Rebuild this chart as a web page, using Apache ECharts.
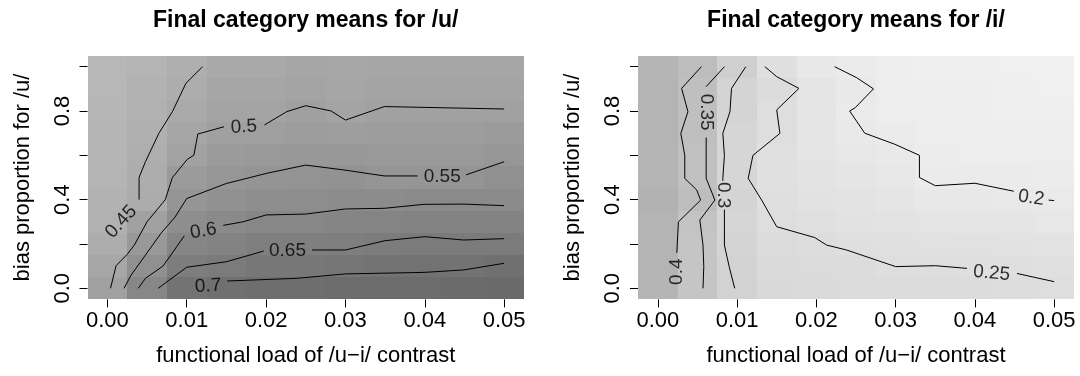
<!DOCTYPE html>
<html>
<head>
<meta charset="utf-8">
<script src="https://cdn.jsdelivr.net/npm/echarts@6.0.0/dist/echarts.min.js"></script>
<style>
  html, body { margin: 0; padding: 0; background: #fff; }
  #chart { width: 1080px; height: 376px; }
</style>
</head>
<body>
<div id="chart"></div>
<script>
// cell centres of the simulation grid
const loadValues = [0, 0.005, 0.01, 0.015, 0.02, 0.025, 0.03, 0.035, 0.04, 0.045, 0.05];
const biasValues = [0, 0.1, 0.2, 0.3, 0.4, 0.5, 0.6, 0.7, 0.8, 0.9, 1.0];
const xTicks = [0, 0.01, 0.02, 0.03, 0.04, 0.05];
const yTicks = [0, 0.2, 0.4, 0.6, 0.8, 1.0];
const yTickLabels = [0, 0.4, 0.8];

// final /u/ means, one row per bias value (bias 0 first)
const uMeans = [
  [0.500, 0.610, 0.690, 0.705, 0.710, 0.710, 0.720, 0.720, 0.720, 0.725, 0.730],
  [0.475, 0.570, 0.648, 0.660, 0.675, 0.675, 0.685, 0.690, 0.695, 0.690, 0.705],
  [0.452, 0.535, 0.612, 0.625, 0.640, 0.640, 0.645, 0.655, 0.660, 0.657, 0.660],
  [0.435, 0.500, 0.580, 0.597, 0.610, 0.610, 0.617, 0.620, 0.625, 0.625, 0.625],
  [0.430, 0.457, 0.550, 0.567, 0.580, 0.585, 0.590, 0.590, 0.595, 0.595, 0.593],
  [0.425, 0.453, 0.525, 0.545, 0.555, 0.560, 0.565, 0.552, 0.552, 0.555, 0.570],
  [0.420, 0.447, 0.497, 0.525, 0.535, 0.540, 0.540, 0.535, 0.535, 0.535, 0.545],
  [0.418, 0.440, 0.480, 0.505, 0.510, 0.520, 0.515, 0.520, 0.520, 0.520, 0.525],
  [0.415, 0.435, 0.465, 0.490, 0.490, 0.505, 0.490, 0.503, 0.503, 0.502, 0.502],
  [0.413, 0.430, 0.453, 0.480, 0.480, 0.490, 0.480, 0.490, 0.490, 0.490, 0.490],
  [0.410, 0.425, 0.445, 0.470, 0.470, 0.480, 0.475, 0.480, 0.480, 0.480, 0.480]
];

// final /i/ means
const iMeans = [
  [0.420, 0.355, 0.298, 0.272, 0.265, 0.262, 0.260, 0.258, 0.258, 0.256, 0.252],
  [0.425, 0.355, 0.297, 0.268, 0.262, 0.258, 0.250, 0.250, 0.248, 0.245, 0.242],
  [0.425, 0.355, 0.290, 0.262, 0.255, 0.245, 0.240, 0.238, 0.236, 0.232, 0.228],
  [0.425, 0.360, 0.285, 0.252, 0.240, 0.235, 0.228, 0.225, 0.222, 0.220, 0.215],
  [0.430, 0.385, 0.290, 0.245, 0.235, 0.228, 0.222, 0.210, 0.208, 0.205, 0.200],
  [0.425, 0.375, 0.285, 0.240, 0.230, 0.220, 0.215, 0.198, 0.198, 0.195, 0.193],
  [0.425, 0.375, 0.285, 0.242, 0.225, 0.215, 0.205, 0.192, 0.190, 0.190, 0.188],
  [0.425, 0.378, 0.285, 0.250, 0.222, 0.205, 0.195, 0.188, 0.187, 0.185, 0.184],
  [0.425, 0.380, 0.290, 0.250, 0.220, 0.200, 0.190, 0.185, 0.184, 0.182, 0.180],
  [0.425, 0.380, 0.292, 0.258, 0.220, 0.205, 0.190, 0.185, 0.183, 0.180, 0.178],
  [0.420, 0.385, 0.310, 0.245, 0.210, 0.195, 0.185, 0.180, 0.180, 0.178, 0.176]
];

// contour lines (pieces are split where the level label sits)
const uContour045 = [
  [[0.004, 0.4], [0.004, 0.5], [0.0048, 0.571], [0.0065, 0.70], [0.0082, 0.797], [0.0099, 0.925], [0.012, 1.0]]
];
const uContour050 = [
  [[0.0004, 0], [0.0011, 0.102], [0.0025, 0.153], [0.0034, 0.195], [0.005, 0.30], [0.0073, 0.40], [0.0082, 0.50],
   [0.0101, 0.583], [0.0109, 0.60], [0.0114, 0.696], [0.0147, 0.729]],
  [[0.0198, 0.737], [0.0226, 0.797], [0.025, 0.824], [0.0282, 0.80], [0.030, 0.759], [0.0349, 0.82], [0.05, 0.809]]
];
const uContour055 = [
  [[0.0021, 0], [0.003, 0.06], [0.005, 0.16], [0.0068, 0.25], [0.0085, 0.32], [0.010, 0.405], [0.015, 0.473],
   [0.0201, 0.519], [0.025, 0.556], [0.0298, 0.534], [0.0349, 0.507], [0.0391, 0.507]],
  [[0.0452, 0.512], [0.05, 0.571]]
];
const uContour060 = [
  [[0.0039, 0], [0.0048, 0.045], [0.007, 0.10], [0.008, 0.15], [0.0097, 0.237]],
  [[0.0146, 0.284], [0.0171, 0.30], [0.020, 0.331], [0.025, 0.335], [0.030, 0.358], [0.0349, 0.361],
   [0.0399, 0.379], [0.0449, 0.38], [0.05, 0.373]]
];
const uContour065 = [
  [[0.0064, 0], [0.010, 0.095], [0.015, 0.12], [0.0197, 0.168]],
  [[0.0258, 0.173], [0.030, 0.173], [0.035, 0.215], [0.040, 0.233], [0.0449, 0.218], [0.05, 0.224]]
];
const uContour070 = [
  [[0.0151, 0.033], [0.0238, 0.045], [0.030, 0.065], [0.040, 0.072], [0.0449, 0.083], [0.05, 0.113]]
];
const uLevelLabels = [['0.45', 0.00175, 0.30], ['0.5', 0.0172, 0.728], ['0.55', 0.0422, 0.503],
  ['0.6', 0.0121, 0.258], ['0.65', 0.0227, 0.168], ['0.7', 0.0127, 0.010]];

const iContour040 = [
  [[0.0055, 1.0], [0.003, 0.902], [0.0038, 0.797], [0.0029, 0.699], [0.0034, 0.60], [0.0034, 0.496],
   [0.0049, 0.444], [0.0054, 0.398], [0.0026, 0.30], [0.0024, 0.16]]
];
const iContour035 = [
  [[0.0084, 1.0], [0.0061, 0.91]],
  [[0.0061, 0.68], [0.0061, 0.496], [0.0072, 0.398], [0.0053, 0.308], [0.0057, 0.195], [0.0058, 0.098], [0.0057, 0]]
];
const iContour030 = [
  [[0.0111, 1.0], [0.0093, 0.902], [0.0091, 0.797], [0.0082, 0.699], [0.0084, 0.60], [0.0082, 0.496], [0.0082, 0.485]],
  [[0.0084, 0.355], [0.0084, 0.195], [0.009, 0.098], [0.0097, 0]]
];
const iContour025 = [
  [[0.0135, 1.0], [0.015, 0.955], [0.0178, 0.902], [0.015, 0.805], [0.0154, 0.699], [0.012, 0.60], [0.0114, 0.496],
   [0.0131, 0.398], [0.015, 0.278], [0.0198, 0.229], [0.0213, 0.195], [0.0238, 0.173], [0.030, 0.098],
   [0.035, 0.102], [0.039, 0.09]],
  [[0.0453, 0.067], [0.05, 0.03]]
];
const iContour020 = [
  [[0.0223, 1.0], [0.0251, 0.95], [0.0272, 0.90], [0.0249, 0.815], [0.0242, 0.80], [0.0261, 0.70], [0.0299, 0.65],
   [0.033, 0.60], [0.033, 0.50], [0.035, 0.463], [0.040, 0.474], [0.0449, 0.438]],
  [[0.0493, 0.398], [0.05, 0.396]]
];
const iLevelLabels = [['0.4', 0.0024, 0.075], ['0.35', 0.0061, 0.795], ['0.3', 0.0082, 0.42],
  ['0.25', 0.0421, 0.068], ['0.2', 0.0471, 0.408]];

// text angles of the level labels (follow the line direction)
const labelAngle = { '0.45': 48, '0.5': 3, '0.55': 0, '0.6': 10, '0.65': 0, '0.7': 4,
  '0.4': 90, '0.35': -90, '0.3': -90, '0.25': -5, '0.2': -8 };

const FONT = '"Liberation Sans", Arial, Helvetica, sans-serif';
const gridBoxes = [
  { left: 87.5, top: 55.6, width: 436.5, height: 243.8 },
  { left: 638, top: 55.6, width: 436, height: 243.8 }
];
const titles = ['Final category means for /u/', 'Final category means for /i/'];

// grey level for a mean value (darker = higher)
function shade(v) {
  const g = Math.max(0, Math.min(255, Math.round(282.7 - 242.6 * v)));
  return 'rgb(' + g + ',' + g + ',' + g + ')';
}

const halfW = (loadValues[1] - loadValues[0]) / 2;
const halfH = (biasValues[1] - biasValues[0]) / 2;

function cellData(matrix) {
  const out = [];
  biasValues.forEach((b, j) => {
    loadValues.forEach((l, i) => out.push([l, b, matrix[j][i]]));
  });
  return out;
}

function renderCell(params, api) {
  const x = api.value(0), y = api.value(1);
  const p0 = api.coord([x - halfW, y + halfH]);
  const p1 = api.coord([x + halfW, y - halfH]);
  const x0 = Math.round(p0[0]), y0 = Math.round(p0[1]);
  const x1 = Math.round(p1[0]), y1 = Math.round(p1[1]);
  return {
    type: 'rect',
    shape: { x: x0, y: y0, width: x1 - x0, height: y1 - y0 },
    style: { fill: shade(api.value(2)), stroke: null }
  };
}

function lineSeries(pieces, gi) {
  return pieces.map(p => ({
    type: 'line', xAxisIndex: gi, yAxisIndex: gi, data: p,
    symbol: 'none', silent: true, z: 3, animation: false,
    lineStyle: { color: '#000', width: 1 }
  }));
}

function labelSeries(labels, gi) {
  return {
    type: 'scatter', xAxisIndex: gi, yAxisIndex: gi, symbolSize: 0, silent: true, z: 4, animation: false,
    data: labels.map(l => ({
      value: [l[1], l[2]],
      label: { show: true, position: 'inside', formatter: l[0], rotate: labelAngle[l[0]],
        color: '#000', fontSize: 19, fontFamily: FONT }
    }))
  };
}

const xAxes = gridBoxes.map((g, gi) => ({
  type: 'value', gridIndex: gi, min: -0.0025, max: 0.0525,
  axisLine: { show: false, onZero: false },
  splitLine: { show: false },
  axisTick: { show: true, length: 8, customValues: xTicks, lineStyle: { color: '#000', width: 1 } },
  axisLabel: { customValues: xTicks, formatter: v => v.toFixed(2), color: '#000',
    fontSize: 22, fontFamily: FONT, margin: 11 },
  name: 'functional load of /u\u2212i/ contrast', nameLocation: 'middle', nameGap: 46,
  nameTextStyle: { color: '#000', fontSize: 22, fontFamily: FONT }
}));

const yAxes = gridBoxes.map((g, gi) => ({
  type: 'value', gridIndex: gi, min: -0.05, max: 1.05,
  axisLine: { show: false, onZero: false },
  splitLine: { show: false },
  axisTick: { show: true, length: 8, customValues: yTicks, lineStyle: { color: '#000', width: 1 } },
  axisLabel: { customValues: yTickLabels, formatter: v => v.toFixed(1), rotate: 90, color: '#000',
    fontSize: 22, fontFamily: FONT, margin: 14 },
  name: 'bias proportion for /u/', nameLocation: 'middle', nameGap: 54,
  nameTextStyle: { color: '#000', fontSize: 22, fontFamily: FONT }
}));

const series = [
  { type: 'custom', xAxisIndex: 0, yAxisIndex: 0, renderItem: renderCell, data: cellData(uMeans), z: 1, silent: true, animation: false },
  { type: 'custom', xAxisIndex: 1, yAxisIndex: 1, renderItem: renderCell, data: cellData(iMeans), z: 1, silent: true, animation: false }
]
  .concat(lineSeries(uContour045, 0), lineSeries(uContour050, 0), lineSeries(uContour055, 0),
    lineSeries(uContour060, 0), lineSeries(uContour065, 0), lineSeries(uContour070, 0))
  .concat(lineSeries(iContour040, 1), lineSeries(iContour035, 1), lineSeries(iContour030, 1),
    lineSeries(iContour025, 1), lineSeries(iContour020, 1))
  .concat([labelSeries(uLevelLabels, 0), labelSeries(iLevelLabels, 1)]);

const chart = echarts.init(document.getElementById('chart'), null, { renderer: 'canvas' });
chart.setOption({
  animation: false,
  backgroundColor: '#fff',
  grid: gridBoxes.map(g => Object.assign({ containLabel: false, outerBoundsMode: 'none' }, g)),
  xAxis: xAxes,
  yAxis: yAxes,
  graphic: titles.map((t, gi) => ({
    type: 'text',
    x: gridBoxes[gi].left + gridBoxes[gi].width / 2,
    y: 21,
    style: { text: t, textAlign: 'center', textVerticalAlign: 'middle',
      font: 'bold 23px ' + FONT, fill: '#000' }
  })),
  series: series
});
</script>
</body>
</html>
